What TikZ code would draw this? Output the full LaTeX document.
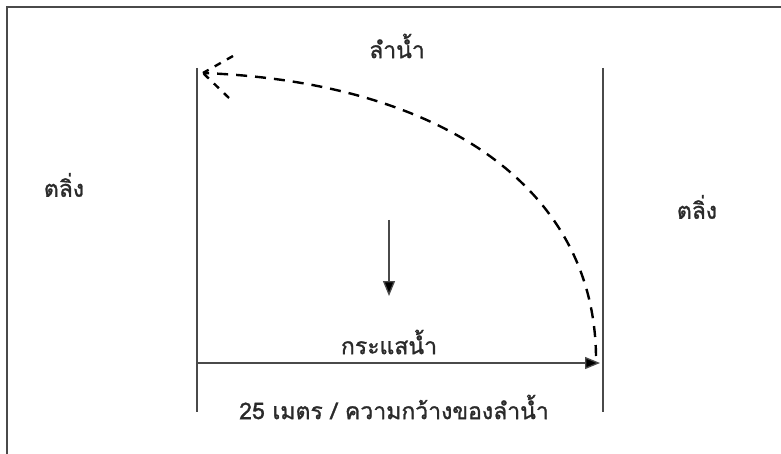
\documentclass[tikz,border=0pt]{standalone}
\usepackage{fontspec}
\newfontfamily\thaifont[Script=Thai,FakeBold=1.2]{Loma}
\usetikzlibrary{arrows.meta}
\definecolor{ln}{HTML}{4A4A4A}
\definecolor{tx}{HTML}{2A2A2A}
\tikzset{
  lbl/.style={font=\thaifont\fontsize{23}{26}\selectfont, text=tx, inner sep=0pt},
  bank/.style={draw=ln, line width=1.3pt},
  flow/.style={draw=ln, line width=1.3pt, -{Triangle[length=15pt,width=12pt,fill=black]}},
  swim/.style={draw=black, line width=2.4pt, dash pattern=on 11pt off 8pt},
}
\begin{document}
\begin{tikzpicture}[x=1pt,y=-1pt]
\useasboundingbox (0,0) rectangle (781,454);
% frame (only top and left visible)
\draw[draw=ln, line width=1.8pt] (781,7) -- (7,7) -- (7,454);
% banks
\coordinate (lt) at (197,68);
\coordinate (lb) at (197,412);
\coordinate (rt) at (603,68);
\coordinate (rb) at (603,412);
\draw[bank] (lt) -- (lb);
\draw[bank] (rt) -- (rb);
% width arrow
\coordinate (ws) at (197,363);
\coordinate (we) at (600,363);
\draw[flow] (ws) -- (we);
% current arrow
\coordinate (cs) at (389,220);
\coordinate (ce) at (389,296);
\draw[flow] (cs) -- (ce);
% swim path
\coordinate (ps) at (596,356);
\coordinate (pe) at (203,73);
\draw[swim] (ps) .. controls (594,187) and (440,82) .. (pe);
\coordinate (b1) at (233,56);
\coordinate (b2) at (229,98);
\draw[swim, dash pattern=on 7pt off 7pt] (b1) -- (pe);
\draw[swim, dash pattern=on 7pt off 7pt] (b2) -- (pe);
% labels
\node[lbl] (river) at (397,46) {ลำน้ำ};
\node[lbl] (bankL) at (64,185) {ตลิ่ง};
\node[lbl] (bankR) at (697,207) {ตลิ่ง};
\node[lbl] (cur) at (389,342) {กระแสน้ำ};
\node[lbl] (wid) at (394,407) {25 เมตร / ความกว้างของลำน้ำ};
\end{tikzpicture}
\end{document}
